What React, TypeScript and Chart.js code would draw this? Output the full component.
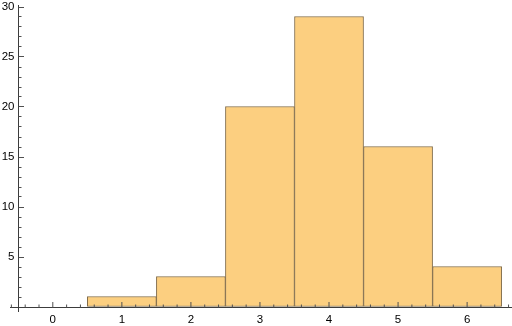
import { useEffect, useRef } from "react";
import { Chart, registerables } from "chart.js";

Chart.register(...registerables);

const binCenters = [1, 2, 3, 4, 5, 6];
const counts = [1, 3, 20, 29, 16, 4];
const xTickLabels = [0, 1, 2, 3, 4, 5, 6];
const yTickLabels = [5, 10, 15, 20, 25, 30];

const AXIS_COLOR = "rgb(60,60,60)";
const TICK_COLOR = "rgb(80,80,80)";
const FONT = "11.5px 'Liberation Sans', Arial, sans-serif";

export default function App() {
  const ref = useRef<HTMLCanvasElement>(null);

  useEffect(() => {
    document.body.style.margin = "0";
    const canvas = ref.current;
    if (!canvas) return;

    const axesPlugin = {
      id: "axesPlugin",
      afterDatasetsDraw(chart: any) {
        const ctx = chart.ctx;
        const area = chart.chartArea;
        const xs = chart.scales.x;
        const ys = chart.scales.y;
        const yAxisPx = Math.round(xs.getPixelForValue(-0.5)) + 0.5;
        const xAxisPx = Math.round(ys.getPixelForValue(0)) + 0.5;
        ctx.save();
        // axis lines
        ctx.strokeStyle = AXIS_COLOR;
        ctx.lineWidth = 1;
        ctx.beginPath();
        ctx.moveTo(area.left, xAxisPx);
        ctx.lineTo(area.right, xAxisPx);
        ctx.moveTo(yAxisPx, area.top);
        ctx.lineTo(yAxisPx, area.bottom);
        ctx.stroke();
        // ticks
        ctx.strokeStyle = TICK_COLOR;
        ctx.beginPath();
        for (let i = -3; i <= 33; i++) {
          const v = i / 5;
          if (v < xs.min || v > xs.max) continue;
          const px = xs.getPixelForValue(v);
          const len = i % 5 === 0 ? 5.5 : 3;
          ctx.moveTo(px, xAxisPx);
          ctx.lineTo(px, xAxisPx - len);
        }
        for (let v = 1; v <= 30; v++) {
          const py = Math.round(ys.getPixelForValue(v)) + 0.5;
          const len = v % 5 === 0 ? 5.5 : 3;
          ctx.moveTo(yAxisPx, py);
          ctx.lineTo(yAxisPx + len, py);
        }
        ctx.stroke();
        // labels
        ctx.fillStyle = "#000";
        ctx.font = FONT;
        ctx.textAlign = "center";
        ctx.textBaseline = "middle";
        for (const v of xTickLabels) {
          ctx.fillText(String(v), xs.getPixelForValue(v), xAxisPx + 12.5);
        }
        ctx.textAlign = "right";
        for (const v of yTickLabels) {
          ctx.fillText(String(v), yAxisPx - 4, ys.getPixelForValue(v) + 0.5);
        }
        ctx.restore();
      },
    };

    const chart = new Chart(canvas, {
      type: "bar",
      data: {
        datasets: [
          {
            data: binCenters.map((c, i) => ({ x: c, y: counts[i] })),
            backgroundColor: "rgb(252,207,128)",
            borderColor: "rgb(130,108,72)",
            borderWidth: 1,
            borderSkipped: false,
            barPercentage: 1,
            categoryPercentage: 1,
          } as any,
        ],
      },
      options: {
        animation: false,
        responsive: false,
        devicePixelRatio: 1,
        layout: { padding: { left: 10, top: 5, right: 0, bottom: 14 } },
        plugins: { legend: { display: false }, tooltip: { enabled: false } },
        scales: {
          x: {
            type: "linear",
            display: false,
            offset: false,
            min: -0.62,
            max: 6.65,
            afterBuildTicks: (scale: any) => {
              scale.ticks = xTickLabels.map((v) => ({ value: v }));
            },
          },
          y: {
            type: "linear",
            display: false,
            min: -0.55,
            max: 30.15,
          },
        },
      },
      plugins: [axesPlugin],
    });

    return () => chart.destroy();
  }, []);

  return <canvas ref={ref} width={512} height={326} style={{ display: "block" }} />;
}
